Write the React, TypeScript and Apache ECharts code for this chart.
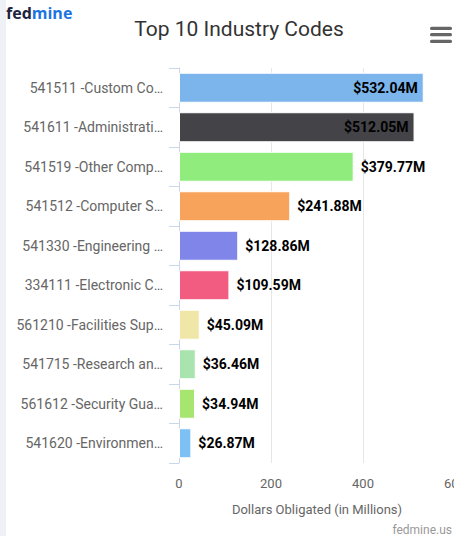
import React, { useEffect, useRef } from "react";
import * as echarts from "echarts";

const categories = [
  "541511 -Custom Co…",
  "541611 -Administrati…",
  "541519 -Other Comp…",
  "541512 -Computer S…",
  "541330 -Engineering …",
  "334111 -Electronic C…",
  "561210 -Facilities Sup…",
  "541715 -Research an…",
  "561612 -Security Gua…",
  "541620 -Environmen…",
];
const values = [532.04, 512.05, 379.77, 241.88, 128.86, 109.59, 45.09, 36.46, 34.94, 26.87];
const colors = [
  "#7cb5ec", "#434348", "#90ed7d", "#f7a35c", "#8085e9",
  "#f15c80", "#f0e6a8", "#a9e4ae", "#a6e56f", "#7cc0f4",
];
const insideLabel = [true, true, false, false, false, false, false, false, false, false];
const xTicks = { min: 0, max: 600, interval: 200 };

export default function App() {
  const ref = useRef<HTMLDivElement>(null);
  useEffect(() => {
    if (!ref.current) return;
    const chart = echarts.init(ref.current, null, { renderer: "svg" });
    const font = "Roboto, sans-serif";
    chart.setOption({
      animation: false,
      backgroundColor: "#fff",
      textStyle: { fontFamily: font },
      grid: { left: 179, right: 15, top: 68, bottom: 73, containLabel: false },
      xAxis: {
        type: "value",
        min: xTicks.min,
        max: xTicks.max,
        interval: xTicks.interval,
        name: "Dollars Obligated (in Millions)",
        nameLocation: "middle",
        nameGap: 40,
        nameTextStyle: { color: "#666", fontSize: 13, fontFamily: font },
        axisLine: { show: false },
        axisTick: { show: false },
        axisLabel: { color: "#666", fontSize: 13, margin: 14, fontFamily: font },
        splitLine: { show: true, lineStyle: { color: "#e6e6e6", width: 1 } },
      },
      yAxis: {
        type: "category",
        data: categories,
        inverse: true,
        axisLine: { show: true, lineStyle: { color: "#ccd6eb", width: 1 } },
        axisTick: { show: true, length: 10, lineStyle: { color: "#ccd6eb" } },
        axisLabel: { color: "#666", fontSize: 14, margin: 16, fontFamily: font },
        splitLine: { show: false },
      },
      series: [
        {
          type: "bar",
          barCategoryGap: "24%",
          z: 3,
          data: values.map((v, i) => ({
            value: v,
            itemStyle: { color: colors[i], borderColor: "#fff", borderWidth: 1 },
            label: {
              show: true,
              position: insideLabel[i] ? "insideRight" : "right",
              distance: insideLabel[i] ? 6 : 7,
              formatter: "$" + v.toFixed(2) + "M",
              color: "#000",
              fontWeight: "bold",
              fontSize: 14,
              fontFamily: font,
            },
          })),
        },
      ],
      graphic: [
        { type: "rect", shape: { x: 0, y: 0, width: 6, height: 536 }, style: { fill: "#eef1f6" }, z: 10 },
        {
          type: "text",
          x: 6,
          y: 13,
          style: {
            text: "{a|fed}{b|mine}",
            verticalAlign: "middle",
            rich: {
              a: { fill: "#1b2340", fontSize: 16, fontWeight: "bold", fontFamily: "'Open Sans', sans-serif" },
              b: { fill: "#1c74e0", fontSize: 16, fontWeight: "bold", fontFamily: "'Open Sans', sans-serif" },
            },
          },
        },
        {
          type: "text",
          x: 239,
          y: 29,
          style: {
            text: "Top 10 Industry Codes",
            fill: "#333",
            fontSize: 21,
            fontFamily: font,
            align: "center",
            verticalAlign: "middle",
          },
        },
        { type: "rect", shape: { x: 430, y: 26.7, width: 22, height: 3.3, r: 1.5 }, style: { fill: "#666" } },
        { type: "rect", shape: { x: 430, y: 33, width: 22, height: 3.3, r: 1.5 }, style: { fill: "#666" } },
        { type: "rect", shape: { x: 430, y: 39.7, width: 22, height: 3.3, r: 1.5 }, style: { fill: "#666" } },
        {
          type: "text",
          x: 452,
          y: 530,
          style: {
            text: "fedmine.us",
            fill: "#999",
            fontSize: 12,
            fontFamily: font,
            align: "right",
            verticalAlign: "middle",
          },
        },
      ],
    });
    return () => chart.dispose();
  }, []);
  return (
    <div style={{ position: "fixed", left: 0, top: 0, width: 454, height: 536, overflow: "hidden", background: "#fff" }}>
      <div ref={ref} style={{ width: 470, height: 536 }} />
    </div>
  );
}
